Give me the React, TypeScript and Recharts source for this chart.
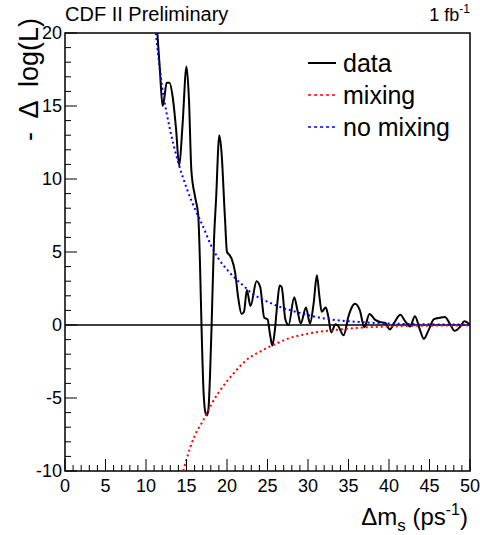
import { LineChart, Line, XAxis, YAxis, ReferenceLine, ReferenceArea, Legend } from 'recharts';

// data curve: -Δlog(L) vs Δm_s
const dataX = [11.4, 11.7, 12.05, 12.25, 12.55, 12.9, 13.3, 13.7, 14.1, 14.5, 15.0, 15.3, 15.6, 16.05, 16.45, 16.67, 16.85, 17.1, 17.3, 17.5, 17.7, 17.9, 18.1, 18.4, 18.65, 19.05, 19.3, 19.75, 20.0, 20.3, 20.6, 21.0, 21.4, 21.8, 22.1, 22.45, 22.9, 23.65, 24.1, 24.6, 25.0, 25.3, 25.6, 25.9, 26.2, 26.5, 26.75, 27.2, 27.6, 28.3, 28.7, 29.1, 29.75, 30.25, 30.7, 31.1, 31.4, 31.7, 32.0, 32.2, 32.5, 32.85, 33.4, 33.7, 34.4, 35.0, 35.4, 35.8, 36.4, 36.95, 37.6, 38.3, 38.9, 39.5, 40.1, 40.7, 41.4, 42.0, 42.6, 43.2, 43.8, 44.3, 44.85, 45.55, 46.3, 46.9, 47.5, 48.1, 48.8, 49.3, 50.0];
const dataY = [20.0, 17.6, 15.0, 15.5, 16.6, 16.6, 15.6, 13.5, 10.9, 13.6, 17.7, 15.5, 10.6, 8.8, 7.5, 4.1, 0.0, -4.5, -5.9, -6.2, -5.8, -3.5, 0.0, 5.9, 8.6, 13.0, 12.0, 7.3, 5.0, 4.8, 4.5, 3.6, 1.8, 0.75, 0.9, 2.4, 1.3, 3.0, 2.6, 0.5, 0.4, -0.6, -1.4, -0.4, 1.4, 2.7, 2.6, 0.4, 0.0, 1.9, 1.0, 0.1, 1.2, 0.1, 1.5, 3.4, 2.0, 0.9, 1.1, 1.2, 0.6, -0.5, 0.05, -0.05, -0.7, 0.6, 1.2, 1.45, 1.0, -0.15, 0.75, 0.35, 0.2, 0.15, -0.3, 0.2, 0.7, 0.25, -0.1, 0.6, -0.3, -0.95, -0.4, 0.4, 0.5, 0.55, 0.1, -0.4, -0.1, 0.25, 0.0];

// expectation with mixing
const mixingX = [14.6, 15, 16, 17, 18, 19, 20, 21, 22, 23, 24, 25, 26, 27, 28, 30, 32, 34, 36, 38, 40, 43, 46, 50];
const mixingY = [-10, -9.2, -7.6, -6.6, -5.5, -4.6, -3.85, -3.2, -2.6, -2.15, -1.85, -1.55, -1.3, -1.05, -0.85, -0.6, -0.42, -0.3, -0.2, -0.14, -0.1, -0.06, -0.04, -0.02];

// expectation without mixing
const noMixingX = [11.2, 12, 13, 14, 15, 16, 17, 18, 19, 20, 21, 22, 23, 24, 25, 26, 27, 28, 30, 32, 34, 36, 38, 40, 43, 46, 50];
const noMixingY = [20, 16.3, 13.3, 11.1, 9.4, 8.0, 6.8, 5.5, 4.5, 3.8, 3.2, 2.7, 2.2, 1.85, 1.6, 1.35, 1.15, 0.98, 0.68, 0.45, 0.3, 0.22, 0.15, 0.1, 0.06, 0.04, 0.02];

const xTicks = Array.from({ length: 51 }, (_, i) => i);
const yTicks = Array.from({ length: 31 }, (_, i) => i - 10);

const toRows = (xs: number[], ys: number[]) => xs.map((x, i) => ({ x, y: ys[i] }));

const FONT = '"Liberation Sans", Arial, Helvetica, sans-serif';

const XTick = ({ x, y, payload }: any) => {
  const major = payload.value % 5 === 0;
  return (
    <g>
      <line x1={x} y1={y} x2={x} y2={y - (major ? 12 : 6)} stroke="#000" strokeWidth={1} />
      {major && (
        <text x={x} y={y + 21} textAnchor="middle" fontSize={18} fontFamily={FONT} fill="#000">
          {payload.value}
        </text>
      )}
    </g>
  );
};

const YTick = ({ x, y, payload }: any) => {
  const major = payload.value % 5 === 0;
  return (
    <g>
      <line x1={x} y1={y} x2={x + (major ? 12 : 6)} y2={y} stroke="#000" strokeWidth={1} />
      {major && (
        <text x={x - 3} y={y + 6} textAnchor="end" fontSize={18} fontFamily={FONT} fill="#000">
          {payload.value}
        </text>
      )}
    </g>
  );
};

const XTitle = ({ viewBox }: any) => (
  <text x={viewBox.x + viewBox.width - 2} y={viewBox.y + 54} textAnchor="end" fontSize={24} fontFamily={FONT} fill="#000">
    Δm<tspan dy={6} fontSize={17}>s</tspan>
    <tspan dy={-6}> (ps</tspan>
    <tspan dy={-10} fontSize={16}>-1</tspan>
    <tspan dy={10}>)</tspan>
  </text>
);

const YTitle = () => (
  <text
    transform="translate(38, 18) rotate(-90)"
    textAnchor="end"
    fontSize={27}
    fontFamily={FONT}
    fill="#000"
    style={{ whiteSpace: 'pre' }}
  >
    {'-  Δ  log(L)'}
  </text>
);

const LegendBox = ({ payload }: any) => (
  <svg width={175} height={100} style={{ fontFamily: FONT, display: 'block' }}>
    {(payload || []).map((p: any, i: number) => (
      <g key={p.value}>
        <line
          x1={8}
          x2={36}
          y1={18 + i * 32}
          y2={18 + i * 32}
          stroke={p.color}
          strokeWidth={p.value === 'data' ? 2 : 1.5}
          strokeDasharray={p.value === 'data' ? undefined : '3 3'}
        />
        <text x={43} y={27 + i * 32} fontSize={25} fill="#000">
          {p.value}
        </text>
      </g>
    ))}
  </svg>
);

export default function App() {
  return (
    <div style={{ position: 'absolute', left: 0, top: 0, width: 480, height: 535, background: '#fff', fontFamily: FONT }}>
      <LineChart width={480} height={535} margin={{ top: 33, right: 10, bottom: 34, left: 5 }}>
        <XAxis
          type="number"
          dataKey="x"
          domain={[0, 50]}
          ticks={xTicks}
          interval={0}
          allowDataOverflow
          tickLine={false}
          axisLine={false}
          tickSize={0}
          tickMargin={0}
          tick={<XTick />}
          height={30}
          label={{ content: <XTitle /> }}
        />
        <YAxis
          type="number"
          dataKey="y"
          domain={[-10, 20]}
          ticks={yTicks}
          interval={0}
          allowDataOverflow
          tickLine={false}
          axisLine={false}
          tickSize={0}
          tickMargin={0}
          tick={<YTick />}
          width={60}
          label={{ content: <YTitle /> }}
        />
        <ReferenceLine y={0} stroke="#000" strokeWidth={1.5} />
        <ReferenceArea x1={0} x2={50} y1={-10} y2={20} fill="none" stroke="#000" strokeWidth={1.5} />
        <Line
          data={toRows(dataX, dataY)}
          dataKey="y"
          name="data"
          type="monotone"
          stroke="#000"
          strokeWidth={2}
          dot={false}
          isAnimationActive={false}
        />
        <Line
          data={toRows(mixingX, mixingY)}
          dataKey="y"
          name="mixing"
          type="monotone"
          stroke="#ff0000"
          strokeWidth={2}
          strokeDasharray="2 3"
          dot={false}
          isAnimationActive={false}
        />
        <Line
          data={toRows(noMixingX, noMixingY)}
          dataKey="y"
          name="no mixing"
          type="monotone"
          stroke="#0000ff"
          strokeWidth={2}
          strokeDasharray="2 3"
          dot={false}
          isAnimationActive={false}
        />
        <Legend
          layout="vertical"
          align="center"
          verticalAlign="middle"
          content={<LegendBox />}
          wrapperStyle={{ left: 300, top: 45, width: 175, height: 100 }}
        />
      </LineChart>
      <svg width={480} height={40} style={{ position: 'absolute', left: 0, top: 0, pointerEvents: 'none' }}>
        <text x={65} y={21} fontSize={20} fontFamily={FONT} fill="#000">CDF II Preliminary</text>
        <text x={470} y={21} textAnchor="end" fontSize={18} fontFamily={FONT} fill="#000">
          1 fb<tspan dy={-8} fontSize={12}>-1</tspan>
        </text>
      </svg>
    </div>
  );
}
